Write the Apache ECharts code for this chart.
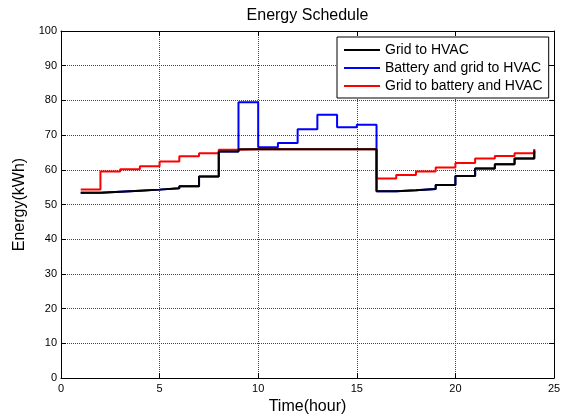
<!DOCTYPE html>
<html>
<head>
<meta charset="utf-8">
<script src="https://cdn.jsdelivr.net/npm/echarts@6/dist/echarts.min.js"></script>
<style>
  html, body { margin: 0; padding: 0; background: #fff; }
  #chart { width: 571px; height: 420px; }
</style>
</head>
<body>
<div id="chart"></div>
<script>
// ---- data ----
const hours = [1,2,3,4,5,6,7,8,9,10,11,12,13,14,15,16,17,18,19,20,21,22,23,24];
const gridToHVAC = [53.4,53.7,54.0,54.3,54.7,55.3,58.1,65.3,65.9,65.9,65.9,65.9,65.9,65.9,65.9,53.8,54.1,54.5,55.6,58.2,60.4,61.6,63.3,65.6];
const batteryGridToHVAC = [53.4,53.7,54.0,54.3,54.7,55.3,58.1,65.3,79.5,66.5,67.7,71.7,75.9,72.3,73.0,53.8,54.1,54.5,55.6,58.2,60.4,61.6,63.3,65.6];
const gridToBatteryHVAC = [54.3,59.5,60.2,61.0,62.4,63.9,64.8,65.8,65.9,65.9,65.9,65.9,65.9,65.9,65.9,57.5,58.5,59.5,60.7,62.0,63.3,64.0,64.8,66.0];
const seriesNames = ['Grid to HVAC', 'Battery and grid to HVAC', 'Grid to battery and HVAC'];
const xTicks = [0, 25, 5];    // min, max, interval
const yTicks = [0, 100, 10];  // min, max, interval

const FONT = 'Liberation Sans, Arial, sans-serif';
const pairs = (xs, ys) => xs.map((x, i) => [x, ys[i]]);

const chart = echarts.init(document.getElementById('chart'), null, { renderer: 'canvas' });

const gridLine = { show: true, lineStyle: { type: [1, 1], color: '#444', width: 1 } };
const axisLine = { show: true, onZero: false, lineStyle: { color: '#000', width: 1 } };
const tick = { show: true, inside: true, length: 5, lineStyle: { color: '#000' } };

chart.setOption({
  animation: false,
  backgroundColor: '#fff',
  title: {
    text: 'Energy Schedule',
    left: 307.5,
    textAlign: 'center',
    top: 8,
    padding: 0,
    textStyle: { fontFamily: FONT, fontSize: 16, fontWeight: 'normal', color: '#000' }
  },
  legend: {
    data: seriesNames,
    orient: 'vertical',
    left: 337,
    top: 37,
    padding: [5, 6, 4, 7],
    itemGap: 2,
    itemWidth: 36,
    itemHeight: 2,
    icon: 'rect',
    borderColor: '#000',
    borderWidth: 1,
    backgroundColor: '#fff',
    textStyle: { fontFamily: FONT, fontSize: 14, color: '#000', lineHeight: 16 }
  },
  grid: { left: 61, right: 17, top: 31, bottom: 38, containLabel: false },
  xAxis: [
    {
      type: 'value', min: xTicks[0], max: xTicks[1], interval: xTicks[2],
      position: 'bottom',
      name: 'Time(hour)', nameLocation: 'middle', nameGap: 19,
      nameTextStyle: { fontFamily: FONT, fontSize: 16, color: '#000' },
      axisLine: axisLine, axisTick: tick, splitLine: gridLine,
      axisLabel: { fontFamily: FONT, fontSize: 11, color: '#000', margin: 5, showMinLabel: true, showMaxLabel: true }
    },
    {
      type: 'value', min: xTicks[0], max: xTicks[1], interval: xTicks[2],
      position: 'top',
      axisLine: axisLine, axisTick: tick, splitLine: { show: false },
      axisLabel: { show: false }
    }
  ],
  yAxis: [
    {
      type: 'value', min: yTicks[0], max: yTicks[1], interval: yTicks[2],
      position: 'left',
      name: 'Energy(kWh)', nameLocation: 'middle', nameGap: 32, nameRotate: 90,
      nameTextStyle: { fontFamily: FONT, fontSize: 16, color: '#000' },
      axisLine: axisLine, axisTick: tick, splitLine: gridLine,
      axisLabel: { fontFamily: FONT, fontSize: 11, color: '#000', margin: 4, showMinLabel: true, showMaxLabel: true }
    },
    {
      type: 'value', min: yTicks[0], max: yTicks[1], interval: yTicks[2],
      position: 'right',
      axisLine: axisLine, axisTick: tick, splitLine: { show: false },
      axisLabel: { show: false }
    }
  ],
  series: [
    {
      name: seriesNames[1], type: 'line', step: 'end', showSymbol: false, z: 2,
      data: pairs(hours, batteryGridToHVAC),
      itemStyle: { color: '#0000ff' }, lineStyle: { color: '#0000ff', width: 2 }
    },
    {
      name: seriesNames[2], type: 'line', step: 'end', showSymbol: false, z: 3,
      data: pairs(hours, gridToBatteryHVAC),
      itemStyle: { color: '#ff0000' }, lineStyle: { color: '#ff0000', width: 2 }
    },
    {
      name: seriesNames[0], type: 'line', step: 'end', showSymbol: false, z: 4,
      data: pairs(hours, gridToHVAC),
      itemStyle: { color: '#000000' }, lineStyle: { color: '#000000', width: 2 }
    }
  ]
});
</script>
</body>
</html>
